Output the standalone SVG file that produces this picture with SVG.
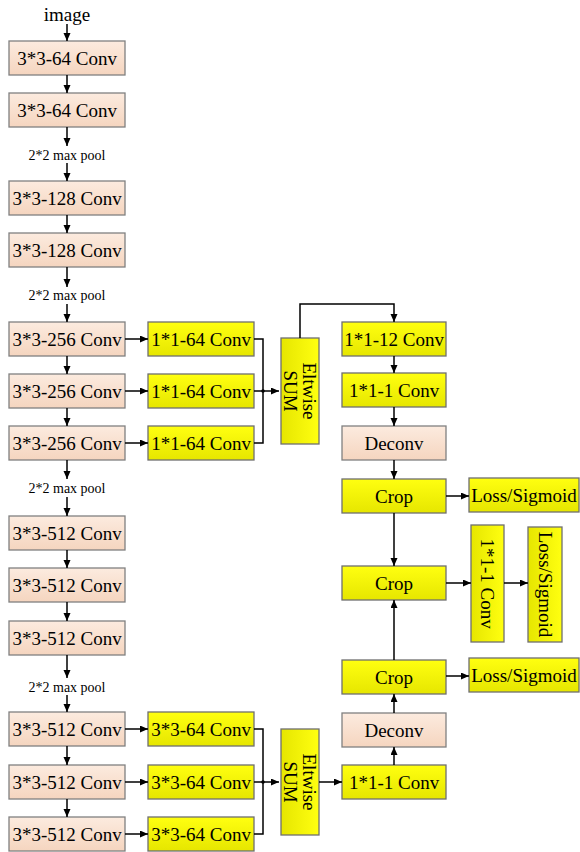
<svg xmlns="http://www.w3.org/2000/svg" width="580" height="852" viewBox="0 0 580 852">
<defs>
<linearGradient id="peach" x1="0" y1="0" x2="0" y2="1">
<stop offset="0" stop-color="#fcebdf"/>
<stop offset="1" stop-color="#f5d5bf"/>
</linearGradient>
<linearGradient id="yellow" x1="0" y1="0" x2="0" y2="1">
<stop offset="0" stop-color="#ffff10"/>
<stop offset="1" stop-color="#e6e600"/>
</linearGradient>
<linearGradient id="yellowh" x1="0" y1="0" x2="1" y2="0">
<stop offset="0" stop-color="#e6e600"/>
<stop offset="1" stop-color="#ffff10"/>
</linearGradient>
<marker id="arr" markerUnits="userSpaceOnUse" markerWidth="9" markerHeight="8" refX="8" refY="3.5" orient="auto">
<path d="M0,0 L8,3.5 L0,7 z" fill="#000"/>
</marker>
</defs>
<style>
.p{fill:url(#peach);stroke:#808080;stroke-width:1.3}
.y{fill:url(#yellow);stroke:#6f6f6f;stroke-width:1.3}
.yv{fill:url(#yellowh);stroke:#6f6f6f;stroke-width:1.3}
text{font-family:"Liberation Serif","Times New Roman",serif;fill:#000;font-size:19px;text-anchor:middle;dominant-baseline:central}
.s{font-size:14px}
.c{fill:none;stroke:#000;stroke-width:1.5}
.a{fill:none;stroke:#000;stroke-width:1.5;marker-end:url(#arr)}
</style>
<rect width="580" height="852" fill="#fff"/>
<text x="67" y="14">image</text>
<text class="s" x="67" y="155">2*2 max pool</text>
<text class="s" x="67" y="295">2*2 max pool</text>
<text class="s" x="67" y="488">2*2 max pool</text>
<text class="s" x="67" y="687">2*2 max pool</text>

<g id="conv1_1"><rect class="p" x="9" y="41" width="116" height="34"/><text x="67" y="58">3*3-64 Conv</text></g>
<g id="conv1_2"><rect class="p" x="9" y="93" width="116" height="34"/><text x="67" y="110">3*3-64 Conv</text></g>
<g id="conv2_1"><rect class="p" x="9" y="181" width="116" height="34"/><text x="67" y="198">3*3-128 Conv</text></g>
<g id="conv2_2"><rect class="p" x="9" y="233" width="116" height="34"/><text x="67" y="250">3*3-128 Conv</text></g>
<g id="conv3_1"><rect class="p" x="9" y="322" width="116" height="34"/><text x="67" y="339">3*3-256 Conv</text></g>
<g id="conv3_2"><rect class="p" x="9" y="374" width="116" height="34"/><text x="67" y="391">3*3-256 Conv</text></g>
<g id="conv3_3"><rect class="p" x="9" y="426" width="116" height="34"/><text x="67" y="443">3*3-256 Conv</text></g>
<g id="conv4_1"><rect class="p" x="9" y="516" width="116" height="34"/><text x="67" y="533">3*3-512 Conv</text></g>
<g id="conv4_2"><rect class="p" x="9" y="568" width="116" height="34"/><text x="67" y="585">3*3-512 Conv</text></g>
<g id="conv4_3"><rect class="p" x="9" y="621" width="116" height="34"/><text x="67" y="638">3*3-512 Conv</text></g>
<g id="conv5_1"><rect class="p" x="9" y="712" width="116" height="34"/><text x="67" y="729">3*3-512 Conv</text></g>
<g id="conv5_2"><rect class="p" x="9" y="765" width="116" height="34"/><text x="67" y="782">3*3-512 Conv</text></g>
<g id="conv5_3"><rect class="p" x="9" y="817" width="116" height="34"/><text x="67" y="834">3*3-512 Conv</text></g>

<g id="side3_1"><rect class="y" x="148" y="322" width="106" height="34"/><text x="201" y="339">1*1-64 Conv</text></g>
<g id="side3_2"><rect class="y" x="148" y="374" width="106" height="34"/><text x="201" y="391">1*1-64 Conv</text></g>
<g id="side3_3"><rect class="y" x="148" y="426" width="106" height="34"/><text x="201" y="443">1*1-64 Conv</text></g>
<g id="side5_1"><rect class="y" x="148" y="712" width="106" height="34"/><text x="201" y="729">3*3-64 Conv</text></g>
<g id="side5_2"><rect class="y" x="148" y="765" width="106" height="34"/><text x="201" y="782">3*3-64 Conv</text></g>
<g id="side5_3"><rect class="y" x="148" y="817" width="106" height="34"/><text x="201" y="834">3*3-64 Conv</text></g>

<g id="sum1"><rect class="yv" x="281" y="338" width="38" height="106"/>
<g transform="translate(300,391) rotate(90)"><text x="0" y="-9.5">Eltwise</text><text x="0" y="10">SUM</text></g></g>
<g id="sum2"><rect class="yv" x="281" y="729" width="38" height="106"/>
<g transform="translate(300,782) rotate(90)"><text x="0" y="-9.5">Eltwise</text><text x="0" y="10">SUM</text></g></g>

<g id="conv12"><rect class="y" x="342" y="322" width="104" height="34"/><text x="394" y="339">1*1-12 Conv</text></g>
<g id="conv1a"><rect class="y" x="342" y="373" width="104" height="34"/><text x="394" y="390">1*1-1 Conv</text></g>
<g id="deconv1"><rect class="p" x="342" y="426" width="104" height="34"/><text x="394" y="443">Deconv</text></g>
<g id="crop1"><rect class="y" x="342" y="479" width="104" height="34"/><text x="394" y="496">Crop</text></g>
<g id="loss1"><rect class="y" x="469" y="478" width="110" height="34"/><text x="524" y="495">Loss/Sigmoid</text></g>
<g id="crop2"><rect class="y" x="342" y="566" width="104" height="34"/><text x="394" y="583">Crop</text></g>
<g id="conv1v"><rect class="yv" x="471" y="525" width="33" height="117"/>
<g transform="translate(487.5,583.5) rotate(90)"><text x="0" y="0">1*1-1 Conv</text></g></g>
<g id="loss2"><rect class="yv" x="528" y="527" width="34" height="115"/>
<g transform="translate(545,584.5) rotate(90)"><text x="0" y="0">Loss/Sigmoid</text></g></g>
<g id="crop3"><rect class="y" x="342" y="660" width="104" height="34"/><text x="394" y="677">Crop</text></g>
<g id="loss3"><rect class="y" x="469" y="658" width="110" height="34"/><text x="524" y="675">Loss/Sigmoid</text></g>
<g id="deconv2"><rect class="p" x="342" y="713" width="104" height="34"/><text x="394" y="730">Deconv</text></g>
<g id="conv1b"><rect class="y" x="342" y="765" width="104" height="34"/><text x="394" y="782">1*1-1 Conv</text></g>

<g id="connectors">
<line class="a" x1="67" y1="24" x2="67" y2="41"/>
<line class="a" x1="67" y1="75" x2="67" y2="93"/>
<line class="a" x1="67" y1="127" x2="67" y2="146"/>
<line class="a" x1="67" y1="163" x2="67" y2="181"/>
<line class="a" x1="67" y1="215" x2="67" y2="233"/>
<line class="a" x1="67" y1="267" x2="67" y2="287"/>
<line class="a" x1="67" y1="304" x2="67" y2="322"/>
<line class="a" x1="67" y1="356" x2="67" y2="374"/>
<line class="a" x1="67" y1="408" x2="67" y2="426"/>
<line class="a" x1="67" y1="460" x2="67" y2="479"/>
<line class="a" x1="67" y1="497" x2="67" y2="516"/>
<line class="a" x1="67" y1="550" x2="67" y2="568"/>
<line class="a" x1="67" y1="602" x2="67" y2="621"/>
<line class="a" x1="67" y1="655" x2="67" y2="678"/>
<line class="a" x1="67" y1="695" x2="67" y2="712"/>
<line class="a" x1="67" y1="746" x2="67" y2="765"/>
<line class="a" x1="67" y1="799" x2="67" y2="817"/>

<line class="a" x1="125" y1="339" x2="148" y2="339"/>
<line class="a" x1="125" y1="391" x2="148" y2="391"/>
<line class="a" x1="125" y1="443" x2="148" y2="443"/>
<line class="a" x1="125" y1="729" x2="148" y2="729"/>
<line class="a" x1="125" y1="782" x2="148" y2="782"/>
<line class="a" x1="125" y1="834" x2="148" y2="834"/>

<polyline class="c" points="254,339 263,339 263,443 254,443"/>
<line class="a" x1="254" y1="391" x2="279" y2="391"/>
<circle cx="263" cy="391" r="1.8" fill="#000"/>
<polyline class="c" points="254,729 263,729 263,834 254,834"/>
<line class="a" x1="254" y1="782" x2="279" y2="782"/>
<circle cx="263" cy="782" r="1.8" fill="#000"/>

<polyline class="a" points="300,338 300,304 394,304 394,322"/>
<line class="a" x1="394" y1="356" x2="394" y2="373"/>
<line class="a" x1="394" y1="407" x2="394" y2="426"/>
<line class="a" x1="394" y1="460" x2="394" y2="479"/>
<line class="a" x1="394" y1="513" x2="394" y2="566"/>
<line class="a" x1="446" y1="496" x2="469" y2="496"/>
<line class="a" x1="446" y1="583" x2="471" y2="583"/>
<line class="a" x1="504" y1="583" x2="528" y2="583"/>
<line class="a" x1="394" y1="660" x2="394" y2="600"/>
<line class="a" x1="446" y1="676" x2="469" y2="676"/>
<line class="a" x1="394" y1="713" x2="394" y2="694"/>
<line class="a" x1="394" y1="765" x2="394" y2="747"/>
<line class="a" x1="319" y1="782" x2="342" y2="782"/>
</g>
</svg>
